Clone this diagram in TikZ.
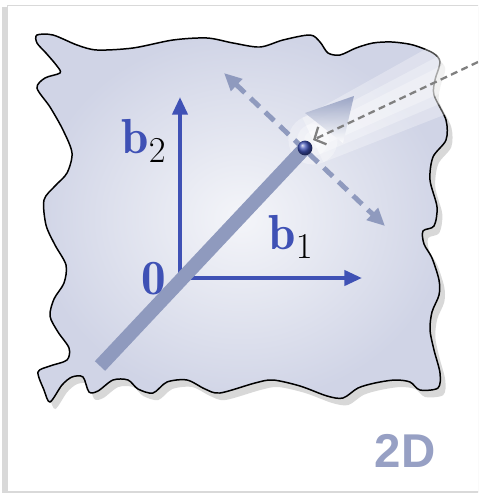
\documentclass[tikz,border=0pt]{standalone}
\usepackage{fontspec}
\newfontfamily\etikettsans{Liberation Sans}
\usetikzlibrary{arrows.meta,shadows,calc}
\definecolor{achsblau}{RGB}{63,81,181}
\definecolor{balkengrau}{RGB}{143,154,190}
\definecolor{flaeche}{RGB}{208,212,230}
\definecolor{flaecheinnen}{RGB}{244,245,249}
\definecolor{dimlabel}{RGB}{151,160,196}
\begin{document}
\begin{tikzpicture}[x=0.02cm,y=-0.02cm,
  achse/.style={achsblau, line width=2.3pt, -{Triangle[length=10pt,width=8.5pt]}},
  gross/.style={font=\fontsize{28}{30}\selectfont},
  ]
  \useasboundingbox (0,0) rectangle (478,494);
  \clip (0,0) rectangle (478,494);

  % Rahmen
  \draw[gray!30, fill=white, drop shadow={opacity=0.3, shadow xshift=-3pt, shadow yshift=-1pt}]
    (7,5) rectangle (520,491);

  % Flaeche
  \path[draw=black, line width=0.85pt, inner color=flaecheinnen, outer color=flaeche,
        drop shadow={opacity=0.3, shadow xshift=3pt, shadow yshift=-4pt}]
    plot[smooth cycle, tension=0.5] coordinates {
      (37,35) (53,35) (77,45) (97,50) (133,48) (173,40) (207,38) (233,43) (260,47)
      (283,40) (310,35) (320,42) (328,53) (340,55) (356,48) (373,43) (392,42) (413,45)
      (433,53) (440,62) (435,80) (434,95) (446,120) (446,140) (433,157) (430,180)
      (437,207) (434,226) (423,231) (424,244) (432,258) (439,280) (439,295) (432,312)
      (430,330) (434,350) (440,373) (438,388) (420,390) (410,382) (395,380) (375,383)
      (358,388) (343,398) (327,396) (300,386) (273,380) (255,383) (220,393) (205,389)
      (187,380) (167,382) (153,393) (138,389) (128,380) (113,380) (98,391) (89,392)
      (83,377) (72,377) (62,385) (50,402) (44,390) (38,372) (50,366) (67,360) (69,348)
      (58,332) (50,316) (54,299) (64,283) (66,265) (55,245) (46,225) (44,200) (55,186)
      (67,173) (72,153) (63,130) (50,107) (37,88) (45,78) (60,73) (57,66) (46,53)
      (37,43)};

  % Punkte
  \coordinate (O) at (180,278);
  \coordinate (b2spitze) at (180,97);
  \coordinate (b1start) at (184,278);
  \coordinate (b1spitze) at (362,278);
  \coordinate (balkenfuss) at (100,366);
  \coordinate (P) at (305,148);
  \coordinate (dA) at (224,73);
  \coordinate (dB) at (385,226);
  \coordinate (quelle) at (478,62);
  \coordinate (ziel) at (313,140);

  % Lichtstrahl
  \foreach \w in {5pt,9pt,14pt}{
    \fill[white, opacity=0.3]
      ($(ziel)!\w!90:(quelle)$) -- ($(quelle)!1.5*\w!-90:(ziel)$)
      -- ($(quelle)!1.5*\w!90:(ziel)$) -- ($(ziel)!\w!-90:(quelle)$) -- cycle;
    \fill[white, opacity=0.3] (ziel) circle[radius=\w];
  }
  \shade[top color=balkengrau, bottom color=white, opacity=0.85]
    (305,113) -- (354,96) -- (343,143) -- cycle;

  % Basisvektoren
  \draw[achse] (O) -- (b2spitze);
  \draw[achse] (b1start) -- (b1spitze);

  % Gitterlinie
  \draw[balkengrau, line width=2.8pt, dash pattern=on 7pt off 4.5pt,
        {Triangle[length=10pt,width=9pt]}-{Triangle[length=10pt,width=9pt]}] (dA) -- (dB);
  \draw[balkengrau, line width=8pt] (balkenfuss) -- (P);
  \shade[ball color=achsblau] (P) circle[radius=4.2pt];

  % einfallender Strahl
  \draw[gray, line width=1.3pt, dash pattern=on 4pt off 2.5pt,
        -{Straight Barb[length=5pt,width=11pt]}] (quelle) -- (ziel);

  % Beschriftung
  \node[gross, achsblau] (null) at (154,279) {$\mathbf{0}$};
  \node[gross] (lb2) at (144,141) {\textcolor{achsblau}{$\mathbf{b}$}$_{2}$};
  \node[gross] (lb1) at (291,237) {\textcolor{achsblau}{$\mathbf{b}$}$_{1}$};
  \node[font=\etikettsans\bfseries\fontsize{27}{30}\selectfont, text=dimlabel] (dim) at (405,451) {2D};
\end{tikzpicture}
\end{document}
